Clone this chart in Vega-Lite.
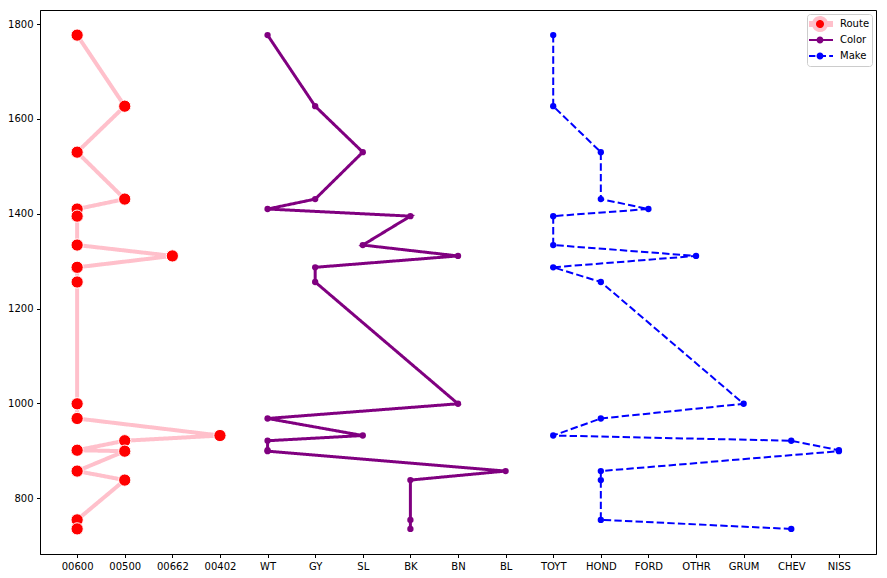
{
  "$schema": "https://vega.github.io/schema/vega-lite/v6.json",
  "width": 836,
  "height": 544,
  "autosize": {"type": "none"},
  "padding": {"left": 40, "top": 10, "right": 11, "bottom": 24},
  "background": "white",
  "config": {
    "view": {"stroke": "black", "strokeWidth": 1},
    "font": "DejaVu Sans",
    "axis": {
      "grid": false,
      "domainColor": "black",
      "tickColor": "black",
      "tickSize": 3.5,
      "labelPadding": 3.5,
      "labelFont": "DejaVu Sans",
      "labelFontSize": 10,
      "labelColor": "black",
      "title": null
    }
  },
  "data": {
    "values": [
      {"idx": 1, "val": 1777, "Route": "00600", "Color": "WT", "Make": "TOYT"},
      {"idx": 2, "val": 1627, "Route": "00500", "Color": "GY", "Make": "TOYT"},
      {"idx": 3, "val": 1530, "Route": "00600", "Color": "SL", "Make": "HOND"},
      {"idx": 4, "val": 1431, "Route": "00500", "Color": "GY", "Make": "HOND"},
      {"idx": 5, "val": 1410, "Route": "00600", "Color": "WT", "Make": "FORD"},
      {"idx": 6, "val": 1395, "Route": "00600", "Color": "BK", "Make": "TOYT"},
      {"idx": 7, "val": 1334, "Route": "00600", "Color": "SL", "Make": "TOYT"},
      {"idx": 8, "val": 1311, "Route": "00662", "Color": "BN", "Make": "OTHR"},
      {"idx": 9, "val": 1287, "Route": "00600", "Color": "GY", "Make": "TOYT"},
      {"idx": 10, "val": 1256, "Route": "00600", "Color": "GY", "Make": "HOND"},
      {"idx": 11, "val": 999, "Route": "00600", "Color": "BN", "Make": "GRUM"},
      {"idx": 12, "val": 968, "Route": "00600", "Color": "WT", "Make": "HOND"},
      {"idx": 13, "val": 932, "Route": "00402", "Color": "SL", "Make": "TOYT"},
      {"idx": 14, "val": 921, "Route": "00500", "Color": "WT", "Make": "CHEV"},
      {"idx": 15, "val": 901, "Route": "00600", "Color": "WT", "Make": "NISS"},
      {"idx": 16, "val": 899, "Route": "00500", "Color": "WT", "Make": "NISS"},
      {"idx": 17, "val": 857, "Route": "00600", "Color": "BL", "Make": "HOND"},
      {"idx": 18, "val": 838, "Route": "00500", "Color": "BK", "Make": "HOND"},
      {"idx": 19, "val": 754, "Route": "00600", "Color": "BK", "Make": "HOND"},
      {"idx": 20, "val": 735, "Route": "00600", "Color": "BK", "Make": "CHEV"}
    ]
  },
  "transform": [
    {"fold": ["Route", "Color", "Make"], "as": ["series", "cat"]}
  ],
  "encoding": {
    "x": {
      "field": "cat",
      "type": "nominal",
      "scale": {
        "type": "point",
        "padding": 0.78,
        "domain": ["00600", "00500", "00662", "00402", "WT", "GY", "SL", "BK", "BN", "BL", "TOYT", "HOND", "FORD", "OTHR", "GRUM", "CHEV", "NISS"]
      },
      "axis": {"labelAngle": 0}
    },
    "y": {
      "field": "val",
      "type": "quantitative",
      "scale": {"domain": [682, 1830], "nice": false, "zero": false},
      "axis": {"values": [800, 1000, 1200, 1400, 1600, 1800], "format": "d"}
    }
  },
  "layer": [
    {
      "mark": {"type": "line"},
      "encoding": {
        "detail": {"field": "series"},
        "order": {"field": "idx", "type": "quantitative"},
        "stroke": {
          "field": "series",
          "type": "nominal",
          "scale": {"domain": ["Route", "Color", "Make"], "range": ["pink", "purple", "blue"]},
          "legend": {
            "title": null,
            "orient": "top-right",
            "offset": 4,
            "padding": 2,
            "strokeColor": "#cccccc",
            "fillColor": "white",
            "cornerRadius": 3,
            "symbolSize": 144,
            "symbolType": "M-1,0L1,0",
            "clipHeight": 16,
            "labelFont": "DejaVu Sans",
            "labelFontSize": 10,
            "labelColor": "black",
            "labelOffset": 15,
            "rowPadding": 0,
            "encode": {
              "symbols": {
                "update": {
                  "shape": {"signal": "datum.value == 'Route' ? 'M-1.5,-0.1667h0.12M-1.3958,-0.1667h0.12M-1.2917,-0.1667h0.12M-1.1875,-0.1667h0.12M-1.0833,-0.1667h0.12M-0.9792,-0.1667h0.12M-0.875,-0.1667h0.12M-0.7708,-0.1667h0.12M-0.6667,-0.1667h0.12M-0.5625,-0.1667h0.12M1.4167,-0.1667h0.12M1.5208,-0.1667h0.12M1.625,-0.1667h0.12M1.7292,-0.1667h0.12M1.8333,-0.1667h0.12M1.9375,-0.1667h0.12M2.0417,-0.1667h0.12M2.1458,-0.1667h0.12M2.25,-0.1667h0.12M2.3542,-0.1667h0.12M2.4583,-0.1667h0.12M2.5625,-0.1667h0.104M-1.5,0.1667h0.12M-1.3958,0.1667h0.12M-1.2917,0.1667h0.12M-1.1875,0.1667h0.12M-1.0833,0.1667h0.12M-0.9792,0.1667h0.12M-0.875,0.1667h0.12M-0.7708,0.1667h0.12M-0.6667,0.1667h0.12M-0.5625,0.1667h0.12M1.4167,0.1667h0.12M1.5208,0.1667h0.12M1.625,0.1667h0.12M1.7292,0.1667h0.12M1.8333,0.1667h0.12M1.9375,0.1667h0.12M2.0417,0.1667h0.12M2.1458,0.1667h0.12M2.25,0.1667h0.12M2.3542,0.1667h0.12M2.4583,0.1667h0.12M2.5625,0.1667h0.104M1.5,0A1,1 0 1 1 -0.5,0A1,1 0 1 1 1.5,0Z' : datum.value == 'Color' ? 'M-1.5,-0.1667L2.667,-0.1667L2.667,0.1667L-1.5,0.1667ZM1.083,0A0.583,0.583 0 1 1 -0.083,0A0.583,0.583 0 1 1 1.083,0ZM0.5,-1L0.5,1' : 'M-1.5,-0.1667L-0.267,-0.1667L-0.267,0.1667L-1.5,0.1667ZM0.267,-0.1667L1.5,-0.1667L1.5,0.1667L0.267,0.1667ZM2.033,-0.1667L2.667,-0.1667L2.667,0.1667L2.033,0.1667ZM1.083,0A0.583,0.583 0 1 1 -0.083,0A0.583,0.583 0 1 1 1.083,0ZM0.5,-1L0.5,1'"},
                  "fill": {"signal": "datum.value == 'Route' ? 'red' : datum.value == 'Color' ? 'purple' : 'blue'"},
                  "fillOpacity": {"value": 1},
                  "strokeOpacity": {"signal": "datum.value == 'Route' ? 1 : 0.001"},
                  "strokeWidth": {"value": 2},
                  "strokeDash": {"signal": "[1, 1000]"}
                }
              }
            }
          }
        },
        "strokeWidth": {
          "field": "series",
          "type": "nominal",
          "scale": {"domain": ["Route", "Color", "Make"], "range": [4, 2, 2]},
          "legend": null
        },
        "strokeDash": {
          "field": "series",
          "type": "nominal",
          "scale": {"domain": ["Route", "Color", "Make"], "range": [[1, 0], [1, 0], [7.4, 3.2]]},
          "legend": null
        }
      }
    },
    {
      "transform": [{"filter": "datum.series == 'Route'"}],
      "mark": {"type": "point", "filled": true, "fill": "red", "stroke": "white", "strokeWidth": 1, "opacity": 1, "size": 150},
      "encoding": {}
    },
    {
      "transform": [{"filter": "datum.series != 'Route'"}],
      "mark": {"type": "point", "filled": true, "opacity": 1, "size": 40},
      "encoding": {
        "fill": {
          "field": "series",
          "type": "nominal",
          "scale": {"domain": ["Route", "Color", "Make"], "range": ["red", "purple", "blue"]},
          "legend": null
        }
      }
    }
  ]
}
